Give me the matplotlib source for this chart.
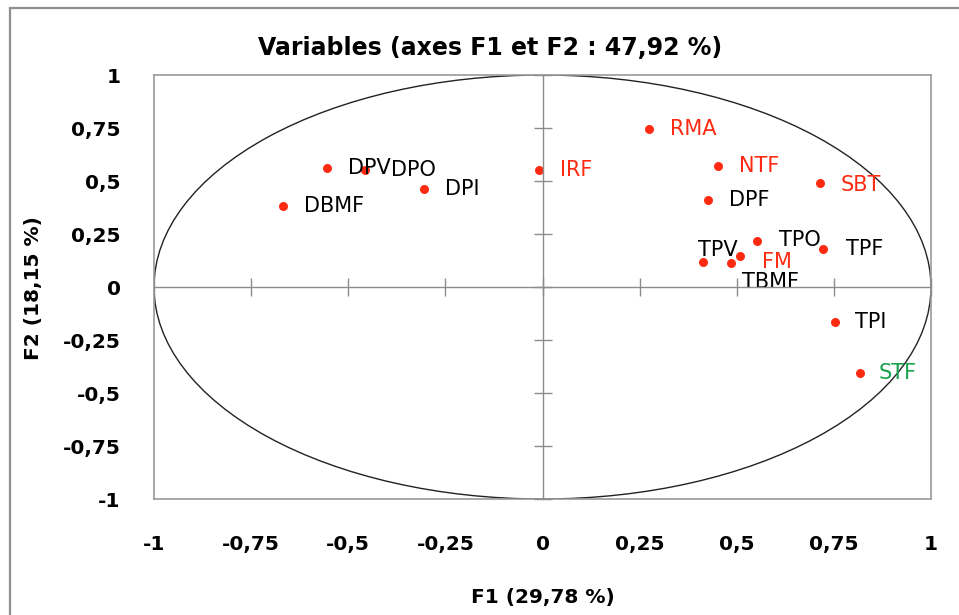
import numpy as np
import matplotlib
matplotlib.use("Agg")
import matplotlib.pyplot as plt
from matplotlib.patches import Ellipse, Rectangle

# variables and their coordinates on F1 / F2
names = ['RMA', 'NTF', 'IRF', 'SBT', 'DPF', 'DPI', 'DPV', 'DPO', 'DBMF',
         'TPV', 'TBMF', 'FM', 'TPO', 'TPF', 'TPI', 'STF']
f1 = [0.275, 0.453, -0.008, 0.714, 0.427, -0.304, -0.554, -0.457, -0.667,
      0.412, 0.484, 0.508, 0.551, 0.722, 0.753, 0.817]
f2 = [0.745, 0.572, 0.552, 0.489, 0.410, 0.462, 0.560, 0.552, 0.382,
      0.117, 0.112, 0.146, 0.217, 0.179, -0.167, -0.407]
groups = ['r', 'r', 'r', 'r', 'k', 'k', 'k', 'k', 'k',
          'k', 'k', 'r', 'k', 'k', 'k', 'g']

ticks = [-1, -0.75, -0.5, -0.25, 0, 0.25, 0.5, 0.75, 1]
tick_labels = ['-1', '-0,75', '-0,5', '-0,25', '0', '0,25', '0,5', '0,75', '1']

label_colors = {'r': '#ff2a12', 'k': 'black', 'g': '#16a34a'}
dot_color = '#ff2a12'
# label offsets in pixels (right, down)
label_offsets = {'TPV': (-5, -12), 'TBMF': (11, 19), 'FM': (22, 6), 'TPO': (22, -1),
                 'SBT': (21, 2), 'TPF': (23, 0), 'TPI': (20, 0), 'STF': (19, 0),
                 'DPO': (26, 0)}

fig = plt.figure(figsize=(9.59, 6.15), dpi=100)
ax = fig.add_axes([0.1606, 0.1886, 0.8102, 0.6894])
ax.set_xlim(-1, 1)
ax.set_ylim(-1, 1)
for s in ax.spines.values():
    s.set_color('#9a9a9a')
    s.set_linewidth(1.2)
ax.set_xticks(ticks)
ax.set_xticklabels(tick_labels)
ax.set_yticks(ticks)
ax.set_yticklabels(tick_labels)
ax.tick_params(length=0, labelsize=14.5, pad=26)
ax.tick_params(axis='y', pad=24)
for lab in ax.get_xticklabels() + ax.get_yticklabels():
    lab.set_fontweight('bold')

# cross axes through the origin with ticks
ax2 = fig.add_axes(ax.get_position(), sharex=ax, sharey=ax)
ax2.patch.set_visible(False)
ax2.spines['top'].set_visible(False)
ax2.spines['right'].set_visible(False)
ax2.spines['left'].set_position(('data', 0))
ax2.spines['bottom'].set_position(('data', 0))
for k in ('left', 'bottom'):
    ax2.spines[k].set_color('#8c8c8c')
    ax2.spines[k].set_linewidth(1.0)
ax2.tick_params(direction='inout', length=13, width=1.0, color='#8c8c8c',
                labelbottom=False, labelleft=False)

circle = Ellipse((0, 0), 2, 2, fill=False, edgecolor='#222222', linewidth=1.0)
ax.add_patch(circle)

ax.scatter(f1, f2, s=42, color=dot_color, zorder=3, linewidths=0)
for n, x, y, g in zip(names, f1, f2, groups):
    dx, dy = label_offsets.get(n, (21, 0))
    ax.annotate(n, (x, y), xytext=(dx * 0.72, -dy * 0.72), textcoords='offset points',
                ha='left', va='center', fontsize=15, color=label_colors[g], zorder=4)

fig.text(490 / 959, 1 - 48 / 615, 'Variables (axes F1 et F2 : 47,92 %)',
         ha='center', va='center', fontsize=17, fontweight='bold')
fig.text(543 / 959, 1 - 598 / 615, 'F1 (29,78 %)', ha='center', va='center',
         fontsize=14.5, fontweight='bold')
fig.text(34 / 959, 1 - 288 / 615, 'F2 (18,15 %)', ha='center', va='center',
         fontsize=14.5, fontweight='bold', rotation=90)

# outer chart frame (cropped on the right and bottom)
frame = Rectangle((10 / 959, -0.1), 1.2, 1 - 7.5 / 615 + 0.1, transform=fig.transFigure,
                  fill=False, edgecolor='#8f8f8f', linewidth=1.6)
fig.patches.append(frame)

fig.savefig('out.png', dpi=100)
